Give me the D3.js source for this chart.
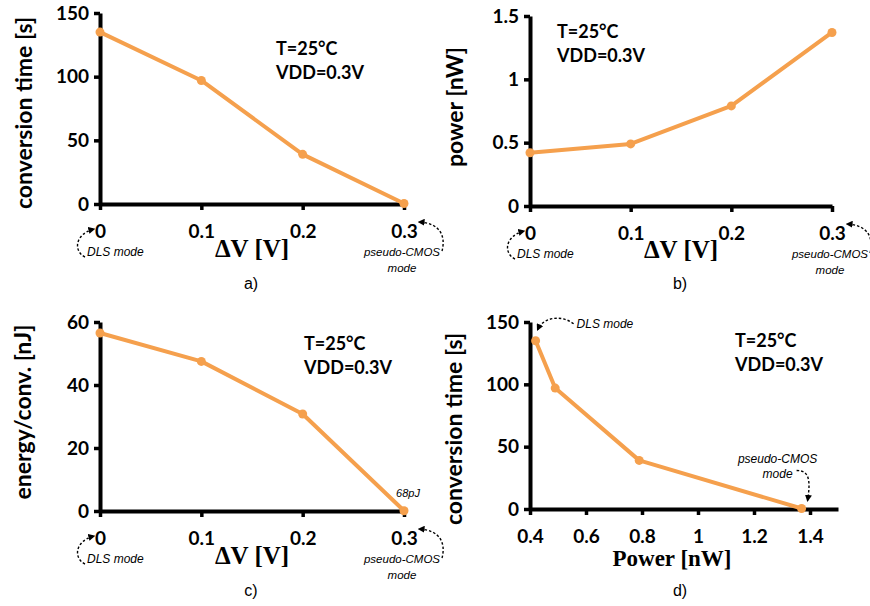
<!DOCTYPE html>
<html>
<head>
<meta charset="utf-8">
<script src="https://cdn.jsdelivr.net/npm/d3@7"></script>
<style>
  body { margin: 0; background: #fff; }
  .tick text { font-family: Lato, sans-serif; font-weight: bold; font-size: 19px; fill: #000; }
</style>
</head>
<body>
<div class="d3Chart"></div>
<script>
// data
var deltaV = [0, 0.1, 0.2, 0.3];
var convTime = [135, 97, 39, 0.4];
var powerNW = [0.42, 0.49, 0.79, 1.37];
var energyNJ = [56.5, 47.5, 30.8, 0.068];

var dvTicks = [0, 0.1, 0.2, 0.3];
var timeTicks = [0, 50, 100, 150];
var powerTicks = [0, 0.5, 1, 1.5];
var energyTicks = [0, 20, 40, 60];
var powerXTicks = [0.4, 0.6, 0.8, 1, 1.2, 1.4];

var width = 870;
var height = 606;
var orange = "#F5A04D";

var svg = d3
  .select(".d3Chart")
  .append("svg")
  .attr("width", width)
  .attr("height", height)
  .style("background-color", "#fff");

// 箭頭
svg
  .append("defs")
  .append("marker")
  .attr("id", "arrow")
  .attr("viewBox", "0 0 10 10")
  .attr("refX", 8)
  .attr("refY", 5)
  .attr("markerWidth", 7)
  .attr("markerHeight", 7)
  .attr("markerUnits", "userSpaceOnUse")
  .attr("orient", "auto")
  .append("path")
  .attr("d", "M0,0 L10,5 L0,10 z")
  .attr("fill", "#000");

function dashed(d) {
  svg
    .append("path")
    .attr("d", d)
    .attr("fill", "none")
    .attr("stroke", "#000")
    .attr("stroke-width", 1.4)
    .attr("stroke-dasharray", "2.5,2")
    .attr("marker-end", "url(#arrow)");
}

function note(x, y, txt, size, anchor) {
  svg
    .append("text")
    .attr("x", x)
    .attr("y", y)
    .attr("text-anchor", anchor || "start")
    .style("font-family", "'Liberation Sans', Arial, sans-serif")
    .style("font-style", "italic")
    .style("font-size", (size || 12) + "px")
    .text(txt);
}

function panel(p) {
  var x = d3.scaleLinear().domain(p.xDomain).range(p.xRange);
  var y = d3.scaleLinear().domain(p.yDomain).range(p.yRange);
  var g = svg.append("g");

  // y 軸
  var ya = g
    .append("g")
    .attr("transform", `translate(${p.xRange[0]},0)`)
    .call(d3.axisLeft(y).tickValues(p.yTicks).tickSize(6).tickSizeOuter(0).tickPadding(5).tickFormat(d3.format("")));
  // x 軸
  var xa = g
    .append("g")
    .attr("transform", `translate(0,${p.yRange[0]})`)
    .call(d3.axisBottom(x).tickValues(p.xTicks).tickSize(6).tickSizeOuter(0).tickPadding(15).tickFormat(d3.format("")));

  [ya, xa].forEach(function (a) {
    a.select(".domain").attr("stroke", "#000").attr("stroke-width", 4);
    a.selectAll(".tick line").attr("stroke", "#000").attr("stroke-width", 3.5);
  });

  // 折線
  var pts = p.xs.map(function (v, i) {
    return [x(v), y(p.ys[i])];
  });
  g.append("path")
    .attr("d", d3.line()(pts))
    .attr("fill", "none")
    .attr("stroke", orange)
    .attr("stroke-width", 4)
    .attr("stroke-linejoin", "round");
  g.selectAll("circle")
    .data(pts)
    .enter()
    .append("circle")
    .attr("cx", (d) => d[0])
    .attr("cy", (d) => d[1])
    .attr("r", 4.5)
    .attr("fill", orange);

  // 軸標題
  g.append("text")
    .attr("transform", `translate(${p.yLabelPos[0]},${p.yLabelPos[1]}) rotate(-90)`)
    .attr("text-anchor", "middle")
    .style("font-family", "Lato, sans-serif")
    .style("font-weight", "bold")
    .style("font-size", "23px")
    .text(p.yLabel);
  g.append("text")
    .attr("x", p.xLabelPos[0])
    .attr("y", p.xLabelPos[1])
    .attr("text-anchor", "middle")
    .style("font-family", "'Liberation Serif', serif")
    .style("font-weight", "bold")
    .style("font-size", p.xLabelSize + "px")
    .text(p.xLabel);

  // 條件
  ["T=25°C", "VDD=0.3V"].forEach(function (t, i) {
    g.append("text")
      .attr("x", p.condPos[0])
      .attr("y", p.condPos[1] + i * 24)
      .style("font-family", "Lato, sans-serif")
      .style("font-weight", "bold")
      .style("font-size", "18px")
      .text(t);
  });

  // 子圖標號
  g.append("text")
    .attr("x", p.tagPos[0])
    .attr("y", p.tagPos[1])
    .attr("text-anchor", "middle")
    .style("font-family", "'Liberation Sans', Arial, sans-serif")
    .style("font-size", "16px")
    .text(p.tag);

  return { x: x, y: y, pts: pts };
}

// 模式註記 (ΔV 軸)
function modeNotes(r) {
  var ox = r.x(0), oy = r.y.range()[0], ex = r.x(0.3);
  dashed(`M${ox - 15},${oy + 53} C${ox - 27},${oy + 47} ${ox - 25},${oy + 30} ${ox - 6},${oy + 25}`);
  note(ox - 13, oy + 52, "DLS mode");
  dashed(`M${ex + 38},${oy + 47} C${ex + 42},${oy + 32} ${ex + 36},${oy + 19} ${ex + 15},${oy + 18}`);
  note(ex - 2, oy + 52, "pseudo-CMOS", 11.5, "middle");
  note(ex - 2, oy + 68, "mode", 11.5, "middle");
}

var a = panel({
  xDomain: [0, 0.3], xRange: [100, 404],
  yDomain: [0, 150], yRange: [204, 13],
  xs: deltaV, ys: convTime, xTicks: dvTicks, yTicks: timeTicks,
  yLabel: "conversion time [s]", yLabelPos: [32, 113],
  xLabel: "ΔV [V]", xLabelPos: [252, 257], xLabelSize: 25,
  condPos: [276, 55], tag: "a)", tagPos: [251, 289],
});
modeNotes(a);

var b = panel({
  xDomain: [0, 0.3], xRange: [530, 832],
  yDomain: [0, 1.5], yRange: [206, 16],
  xs: deltaV, ys: powerNW, xTicks: dvTicks, yTicks: powerTicks,
  yLabel: "power [nW]", yLabelPos: [463, 107],
  xLabel: "ΔV [V]", xLabelPos: [681, 258], xLabelSize: 25,
  condPos: [557, 38], tag: "b)", tagPos: [680, 289],
});
modeNotes(b);

var c = panel({
  xDomain: [0, 0.3], xRange: [100, 404],
  yDomain: [0, 60], yRange: [511, 322],
  xs: deltaV, ys: energyNJ, xTicks: dvTicks, yTicks: energyTicks,
  yLabel: "energy/conv. [nJ]", yLabelPos: [31, 412],
  xLabel: "ΔV [V]", xLabelPos: [252, 564], xLabelSize: 25,
  condPos: [304, 350], tag: "c)", tagPos: [251, 596],
});
modeNotes(c);
note(c.pts[3][0] + 4, c.pts[3][1] - 14, "68pJ", 11, "middle");

var d = panel({
  xDomain: [0.4, 1.5], xRange: [530, 838],
  yDomain: [0, 150], yRange: [509, 322],
  xs: powerNW, ys: convTime, xTicks: powerXTicks, yTicks: timeTicks,
  yLabel: "conversion time [s]", yLabelPos: [462, 429],
  xLabel: "Power [nW]", xLabelPos: [672, 566], xLabelSize: 23,
  condPos: [735, 347], tag: "d)", tagPos: [680, 596],
});
var p0 = d.pts[0], p3 = d.pts[3];
dashed(`M${p0[0] + 38},${p0[1] - 17} C${p0[0] + 26},${p0[1] - 26} ${p0[0] + 8},${p0[1] - 24} ${p0[0] + 2},${p0[1] - 11}`);
note(p0[0] + 41, p0[1] - 13, "DLS mode");
dashed(`M${p3[0] - 5},${p3[1] - 38} C${p3[0] + 8},${p3[1] - 38} ${p3[0] + 9},${p3[1] - 28} ${p3[0] + 6},${p3[1] - 8}`);
note(p3[0] - 24, p3[1] - 46, "pseudo-CMOS", 12, "middle");
note(p3[0] - 24, p3[1] - 31, "mode", 12, "middle");
</script>
</body>
</html>
